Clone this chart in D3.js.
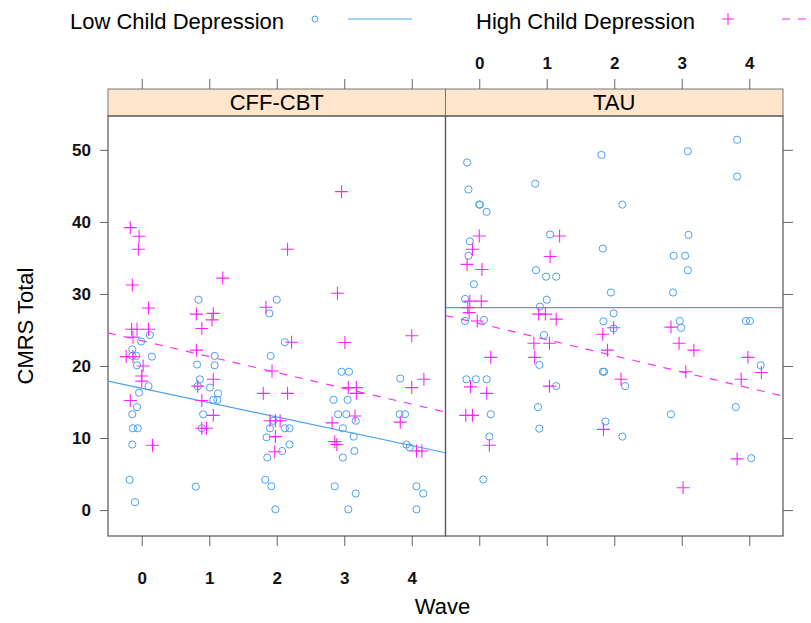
<!DOCTYPE html>
<html>
<head>
<meta charset="utf-8">
<script src="https://cdn.jsdelivr.net/npm/d3@7"></script>
<style>
  body { margin: 0; background: #fff; }
  text { font-family: "Liberation Sans", Arial, sans-serif; }
</style>
</head>
<body>
<div id="chart"></div>
<script>

var panels = ['CFF-CBT', 'TAU'];
var groups = ['Low Child Depression', 'High Child Depression'];
var waveTicks = [0, 1, 2, 3, 4];
var cmrsTicks = [0, 10, 20, 30, 40, 50];

// jittered wave / CMRS total
var cffLowX = [-0.18,-0.1,-0.14,-0.13,-0.06,-0.14,-0.07,-0.04,0.1,-0.07,-0.14,-0.08,0.15,-0.14,-0.01,0.12,
  0.84,1.08,0.82,1.08,0.86,0.83,1.01,1.13,1.06,1.12,0.91,0.89,0.8,
  2.0,1.89,1.91,2.12,1.95,1.9,2.12,2.19,1.85,2.19,2.08,1.86,1.83,1.92,1.98,
  2.96,3.07,2.84,3.05,2.91,3.03,3.17,2.98,3.14,3.15,2.98,2.86,3.17,3.06,
  3.83,3.82,3.9,3.92,3.97,4.07,4.17,4.07];
var cffLowY = [4.2,1.1,9.1,11.35,11.35,13.3,14.3,16.3,17.2,20.1,21.4,21.4,21.3,22.3,23.4,24.3,
  29.2,21.4,20.2,20.1,18.15,17.2,17.0,16.2,15.3,15.3,13.3,11.35,3.25,
  29.2,27.3,21.4,23.3,12.4,11.35,11.35,11.35,10.1,9.1,8.2,7.3,4.2,3.3,0.1,
  19.2,19.2,15.3,15.3,13.3,13.3,12.4,11.35,10.2,8.2,7.3,3.3,2.3,0.1,
  18.25,13.3,13.3,9.1,8.7,3.3,2.3,0.1];

var cffHighX = [-0.17,-0.04,-0.05,-0.14,0.1,-0.15,-0.07,0.1,-0.13,-0.23,-0.13,0.02,0.0,0.0,-0.17,0.16,
  1.2,0.81,1.06,1.04,0.89,0.81,1.06,0.83,0.89,1.06,0.89,0.96,
  1.84,2.16,2.22,1.93,1.8,2.16,1.9,1.98,2.05,1.98,1.97,
  2.96,2.9,3.01,3.06,3.18,3.18,3.16,2.82,2.86,2.89,
  4.0,4.18,4.0,3.83,4.07,4.15];
var cffHighY = [39.2,38.0,36.2,31.25,28.05,25.1,25.1,25.1,24.0,21.3,21.3,20.0,18.6,17.9,15.2,9.0,
  32.2,27.2,27.3,26.4,25.2,22.2,18.15,17.2,15.2,13.15,11.35,11.35,
  28.15,36.2,23.3,19.3,16.2,16.2,12.4,12.4,12.4,10.2,8.1,
  44.2,30.1,23.25,17.0,17.0,16.2,13.05,12.1,9.5,9.1,
  24.2,18.15,17.0,12.2,8.2,8.2];

var tauLowX = [-0.18,-0.16,0.0,0.01,0.11,-0.14,-0.16,-0.08,-0.21,-0.21,0.07,-0.19,-0.05,0.11,0.17,0.15,0.06,
  0.83,1.05,0.84,0.99,1.14,1.0,0.9,0.96,0.89,1.14,0.87,0.89,
  1.81,2.12,1.83,1.95,1.99,1.84,1.99,1.83,1.85,2.16,1.87,2.12,
  3.09,3.1,2.88,3.05,3.09,2.87,2.97,2.99,2.84,
  3.82,3.82,3.95,4.01,4.17,3.8,4.03];
var tauLowY = [48.25,44.5,42.4,42.4,41.4,37.3,35.3,31.35,29.3,26.25,26.4,18.15,18.15,18.15,13.3,10.2,4.25,
  45.3,38.25,33.3,32.4,32.4,29.2,28.25,24.3,20.15,17.2,14.3,11.3,
  49.3,42.4,36.3,30.2,27.3,26.2,25.2,19.2,19.2,17.2,12.3,10.2,
  49.8,38.2,35.3,35.3,33.3,30.2,26.25,25.3,13.3,
  51.4,46.3,26.25,26.25,20.1,14.3,7.2];

var tauHighX = [0.0,-0.1,-0.18,0.04,-0.14,0.03,-0.17,-0.15,-0.03,0.17,-0.13,0.11,-0.2,-0.1,0.15,
  1.19,1.05,0.88,0.98,1.14,0.81,1.04,0.82,1.04,
  1.99,1.83,1.9,2.1,1.84,
  2.84,2.96,3.18,3.06,3.02,
  3.98,4.18,3.88,3.82];
var tauHighY = [38.05,36.2,34.1,33.4,29.0,29.0,28.1,27.4,26.25,21.2,17.1,16.2,13.15,13.15,9.0,
  38.05,35.2,27.2,27.2,26.5,23.15,23.15,21.2,17.2,
  25.3,24.4,22.2,18.15,11.2,
  25.4,23.15,22.2,19.2,3.1,
  21.2,19.1,18.15,7.1];

// fitted lines per panel: [low, high]
var fitIntercept = [[16.9, 23.5], [28.1, 25.9]];
var fitSlope = [[-1.99, -2.2], [0, -2.24]];

var pointX = [[cffLowX, cffHighX], [tauLowX, tauHighX]];
var pointY = [[cffLowY, cffHighY], [tauLowY, tauHighY]];

var blue = '#4a9ff0', pink = '#ff22ff';

var W = 811, H = 623;
var panelLeft = 108, panelTop = 116, panelW = 337.5, panelH = 420, stripH = 27;

var svg = d3.select('#chart').append('svg')
    .attr('width', W).attr('height', H);

var x = d3.scaleLinear().domain([-0.5, 4.5]).range([0, panelW]);
var y = d3.scaleLinear().domain([-3.6, 54.7]).range([panelH, 0]);

panels.forEach(function(name, p) {
    var g = svg.append('g')
        .attr('transform', 'translate(' + (panelLeft + p * panelW) + ',' + panelTop + ')');

    // strip
    g.append('rect')
        .attr('x', 0).attr('y', -stripH).attr('width', panelW).attr('height', stripH)
        .attr('fill', '#ffe5cc').attr('stroke', '#777').attr('stroke-width', 1);
    g.append('text')
        .attr('x', panelW / 2).attr('y', -6)
        .attr('text-anchor', 'middle').attr('font-size', 22)
        .text(name);

    // bottom axis
    g.append('g')
        .attr('transform', 'translate(0,' + panelH + ')')
        .call(d3.axisBottom(x).tickValues(waveTicks).tickSize(10).tickPadding(26)
            .tickFormat(p == 0 ? d3.format('d') : ''));
    // top axis (sits above strip)
    g.append('g')
        .attr('transform', 'translate(0,' + (-stripH) + ')')
        .call(d3.axisTop(x).tickValues(waveTicks).tickSize(10).tickPadding(10)
            .tickFormat(p == 1 ? d3.format('d') : ''));
    if (p == 0) {
        g.append('g')
            .call(d3.axisLeft(y).tickValues(cmrsTicks).tickSize(8).tickPadding(9));
    } else {
        g.append('g')
            .attr('transform', 'translate(' + panelW + ',0)')
            .call(d3.axisRight(y).tickValues(cmrsTicks).tickSize(10).tickFormat(''));
    }

    g.selectAll('.domain').remove();
    g.selectAll('.tick line').attr('stroke', '#666');
    g.selectAll('.tick text').attr('font-size', 17).attr('font-weight', 'bold')
        .attr('fill', '#111').attr('font-family', '"Liberation Sans", Arial, sans-serif');

    // panel box
    g.append('rect')
        .attr('width', panelW).attr('height', panelH)
        .attr('fill', 'none').attr('stroke', '#555').attr('stroke-width', 1.2);

    var plot = g.append('g');
    plot.append('clipPath').attr('id', 'clip' + p)
        .append('rect').attr('width', panelW).attr('height', panelH);

    // fitted lines
    [0, 1].forEach(function(s) {
        var x0 = -0.5, x1 = 4.5;
        plot.append('line')
            .attr('clip-path', 'url(#clip' + p + ')')
            .attr('x1', x(x0)).attr('y1', y(fitIntercept[p][s] + fitSlope[p][s] * x0))
            .attr('x2', x(x1)).attr('y2', y(fitIntercept[p][s] + fitSlope[p][s] * x1))
            .attr('stroke', s == 0 ? blue : pink)
            .attr('stroke-width', 1.1)
            .attr('stroke-dasharray', s == 0 ? null : '8,8');
    });

    // low: circles
    plot.selectAll('circle.low')
        .data(d3.zip(pointX[p][0], pointY[p][0]))
        .enter().append('circle')
        .attr('class', 'low')
        .attr('cx', function(d) { return x(d[0]); })
        .attr('cy', function(d) { return y(d[1]); })
        .attr('r', 3.6)
        .attr('fill', 'none').attr('stroke', blue).attr('stroke-width', 1);

    // high: plus signs
    plot.selectAll('path.high')
        .data(d3.zip(pointX[p][1], pointY[p][1]))
        .enter().append('path')
        .attr('class', 'high')
        .attr('d', function(d) {
            var cx = x(d[0]), cy = y(d[1]), r = 6.5;
            return 'M' + (cx - r) + ',' + cy + 'H' + (cx + r) + 'M' + cx + ',' + (cy - r) + 'V' + (cy + r);
        })
        .attr('stroke', pink).attr('stroke-width', 1.1);
});

// axis titles
svg.append('text')
    .attr('x', panelLeft + panelW - 3).attr('y', 614)
    .attr('text-anchor', 'middle').attr('font-size', 22)
    .text('Wave');
svg.append('text')
    .attr('transform', 'translate(33,' + (panelTop + panelH / 2) + ') rotate(-90)')
    .attr('text-anchor', 'middle').attr('font-size', 22)
    .text('CMRS Total');

// legend
var legend = svg.append('g').attr('transform', 'translate(0,21)');
legend.append('text').attr('x', 70).attr('y', 8).attr('font-size', 22).text(groups[0]);
legend.append('circle').attr('cx', 315).attr('cy', -2).attr('r', 3)
    .attr('fill', 'none').attr('stroke', blue);
legend.append('line').attr('x1', 348).attr('x2', 412).attr('y1', -2).attr('y2', -2)
    .attr('stroke', blue).attr('stroke-width', 1.1);
legend.append('text').attr('x', 476).attr('y', 8).attr('font-size', 22).text(groups[1]);
legend.append('path').attr('d', 'M722,-2H734M728,-8V4')
    .attr('stroke', pink).attr('stroke-width', 1.1);
legend.append('line').attr('x1', 782).attr('x2', 846).attr('y1', -2).attr('y2', -2)
    .attr('stroke', pink).attr('stroke-width', 1.1).attr('stroke-dasharray', '8,8');

</script>
</body>
</html>
